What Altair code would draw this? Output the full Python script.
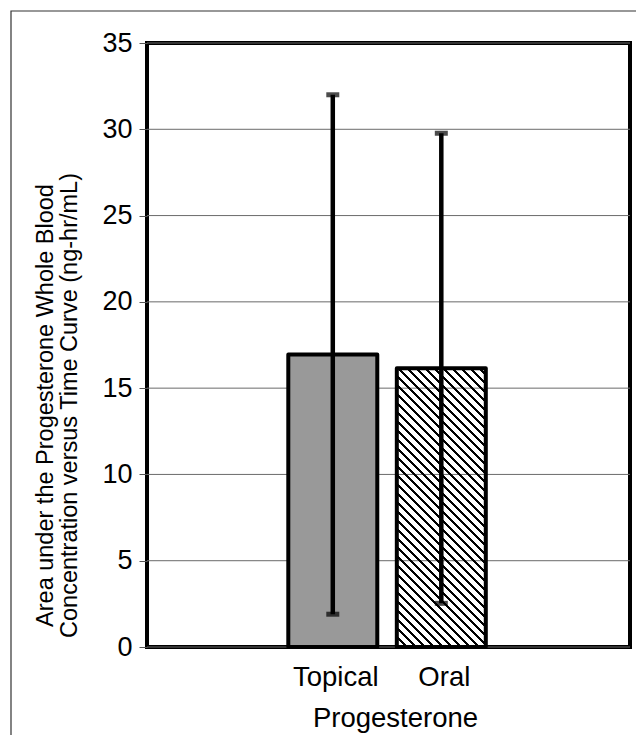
import altair as alt
import pandas as pd

# ---- data ----
groups = ["Topical", "Oral"]
means = [16.95, 16.15]
sds = [15.05, 13.62]
y_ticks = [0, 5, 10, 15, 20, 25, 30, 35]
y_title = ["Area under the Progesterone Whole Blood",
           "Concentration versus Time Curve (ng-hr/mL)"]
x_title = "Progesterone"

df = pd.DataFrame({"group": groups, "mean": means, "sd": sds})
df["lo"] = df["mean"] - df["sd"]
df["hi"] = df["mean"] + df["sd"]
grid_df = pd.DataFrame({"v": y_ticks})

# ---- layout / style ----
W, H = 483, 604
YMAX = 35
P_IN = 0.18
X_RANGE = [141.3, 338.8]
FONT = "Liberation Sans"

step = (X_RANGE[1] - X_RANGE[0]) / (len(groups) - P_IN)
bw = step * (1 - P_IN)
bar_h = means[1] * H / YMAX

# diagonal hatch as a hard-stop linear gradient (45 degree "\" lines), clear background
period = 9.0
frac = 0.25
CLEAR = "rgba(255,255,255,0)"
n = (bw + bar_h) / period
r = bar_h / bw
s = (1 + r) / (1 + r * r)
stops = []
k = 0
while k / n < 1:
    a = k / n
    b = min(1.0, (k + frac) / n)
    stops += [alt.GradientStop(offset=a, color=CLEAR),
              alt.GradientStop(offset=a, color="black"),
              alt.GradientStop(offset=b, color="black"),
              alt.GradientStop(offset=b, color=CLEAR)]
    k += 1
hatch = alt.LinearGradient(gradient="linear", stops=stops,
                           x1=0, y1=1, x2=s, y2=1 - s * r)

xscale = alt.Scale(domain=groups, paddingInner=P_IN, paddingOuter=0, range=X_RANGE)
yscale = alt.Scale(domain=[0, YMAX], nice=False, zero=True)

xaxis = alt.Axis(labelAngle=0, ticks=False, tickSize=0, domain=False, grid=False,
                 labelFont=FONT, labelFontSize=27.5, labelColor="black",
                 labelBaseline="alphabetic", labelPadding=38.5, labelOffset=3,
                 titleFont=FONT, titleFontSize=27.5, titleColor="black",
                 titleFontWeight="normal", titleX=248, titleY=79.5,
                 titleBaseline="alphabetic", titleAlign="center")
yaxis = alt.Axis(values=y_ticks, grid=False,
                 domain=False, ticks=True, tickSize=8, tickColor="#555555", tickWidth=1,
                 labelFont=FONT, labelFontSize=27, labelColor="black", labelPadding=7,
                 titleFont=FONT, titleFontSize=23.5, titleColor="black",
                 titleFontWeight="normal", titleAngle=270, titleX=-95, titleY=362,
                 titleBaseline="alphabetic", titleAlign="center", titleLineHeight=24.7)


def xenc():
    return alt.X("group:N", sort=groups, scale=xscale, axis=xaxis, title=x_title)


def yenc(field):
    return alt.Y(field, type="quantitative", scale=yscale, axis=yaxis, title=y_title)


base = alt.Chart(df)

frame = alt.Chart(pd.DataFrame({"a": [0]})).mark_rect(
    filled=False, stroke="#333333", strokeWidth=1.2
).encode(x=alt.value(-136), x2=alt.value(900), y=alt.value(-32), y2=alt.value(1000))

grid = alt.Chart(grid_df).mark_rule(color="#6a6a6a", strokeWidth=1).encode(
    y=yenc("v"), x=alt.value(0), x2=alt.value(W))

bar_topical = base.transform_filter(alt.datum.group == "Topical").mark_bar(
    fill="#999999", stroke="black", strokeWidth=4, strokeJoin="round"
).encode(x=xenc(), y=yenc("mean"))

bar_oral = base.transform_filter(alt.datum.group == "Oral").mark_bar(
    fill=hatch, stroke="black", strokeWidth=4, strokeJoin="round"
).encode(x=xenc(), y=yenc("mean"))

err = base.mark_rule(color="black", strokeWidth=4.5).encode(
    x=xenc(), y=yenc("lo"), y2="hi")

cap_hi = base.mark_tick(color="black", size=13, thickness=5, orient="horizontal").encode(
    x=xenc(), y=yenc("hi"))
cap_lo = base.mark_tick(color="black", size=13, thickness=5, orient="horizontal").encode(
    x=xenc(), y=yenc("lo"))

chart = alt.layer(frame, grid, bar_topical, bar_oral, err, cap_hi, cap_lo).properties(
    width=W, height=H,
    padding={"left": 139, "top": 35, "right": 6, "bottom": 88},
    autosize=alt.AutoSizeParams(type="none"),
    background="white",
).configure_view(stroke="black", strokeWidth=4)

chart.save("out.html", embed_options={"renderer": "svg", "actions": False})
